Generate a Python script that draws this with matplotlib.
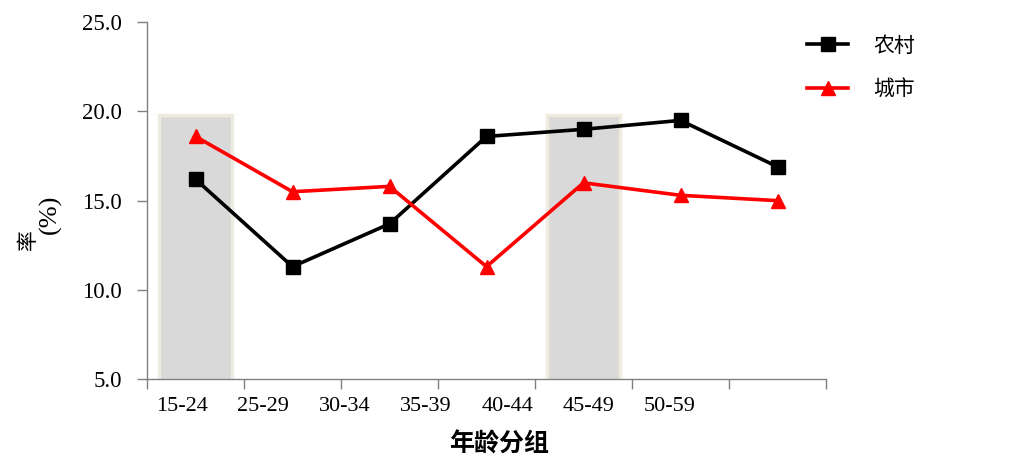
import matplotlib
matplotlib.use("Agg")
import matplotlib.pyplot as plt
import numpy as np

categories = ["15-24", "25-29", "30-34", "35-39", "40-44", "45-49", "50-59"]
rural = [16.2, 11.3, 13.7, 18.6, 19.0, 19.5, 16.9]
urban = [18.6, 15.5, 15.8, 11.3, 16.0, 15.3, 15.0]
highlight_idx = [0, 4]
highlight_val = [19.8, 19.8]
series_names = ["农村", "城市"]
yticks = [5.0, 10.0, 15.0, 20.0, 25.0]

serif = ["Liberation Serif", "DejaVu Serif"]
cjk = ["Noto Sans CJK SC", "DejaVu Sans"]

fig = plt.figure(figsize=(10.27, 4.76), dpi=100)
ax = fig.add_axes([147/1027, 1-379/476, (826-147)/1027, (379-22.3)/476])

x = np.arange(len(categories))
ax.bar([x[i] for i in highlight_idx], highlight_val, width=0.76, bottom=0,
       color="#D9D9D9", edgecolor="#EEECE1", linewidth=2.5, zorder=1)
ax.plot(x, rural, color="black", lw=2.6, marker="s", ms=9.5, label=series_names[0], zorder=3)
ax.plot(x, urban, color="#FF0000", lw=2.6, marker="^", ms=9.5, label=series_names[1], zorder=3)

ax.set_xlim(-0.5, len(categories) - 0.5)
ax.set_ylim(5, 25)
ax.set_yticks(yticks)
ax.set_yticklabels([f"{v:.1f}" for v in yticks], fontfamily=serif, fontsize=16.5)

# labels placed as in reference (slightly shifted from the points)
label_pos = np.linspace(-0.14, 4.89, len(categories))
ax.set_xticks(label_pos)
ax.set_xticklabels(categories, fontfamily=serif, fontsize=16)
ax.tick_params(axis="x", which="major", length=0, pad=13)
ax.set_xticks(np.arange(-0.5, len(categories)), minor=True)
ax.tick_params(axis="x", which="minor", length=7, color="#808080", width=1, direction="out")
ax.tick_params(axis="y", length=7, color="#808080", width=1, direction="out", pad=11)

for s in ["top", "right"]:
    ax.spines[s].set_visible(False)
for s in ["left", "bottom"]:
    ax.spines[s].set_color("#808080")
    ax.spines[s].set_linewidth(1)

fig.legend(loc="upper left", bbox_to_anchor=(788/1027, 1-16/476), frameon=False,
           prop={"family": cjk, "size": 15}, handlelength=2.0, handletextpad=1.2,
           labelspacing=1.05)

fig.text(499/1027, 1-445/476, "年龄分组", ha="center", va="center",
         fontfamily=cjk, fontsize=18, fontweight="bold")
fig.text(28/1027, 1-240/476, "率", rotation=90, ha="center", va="center",
         fontfamily=cjk, fontsize=15)
fig.text(50/1027, 1-214/476, "(%)", rotation=90, ha="center", va="center",
         fontfamily=serif, fontsize=19)

fig.savefig("out.png", dpi=100)
